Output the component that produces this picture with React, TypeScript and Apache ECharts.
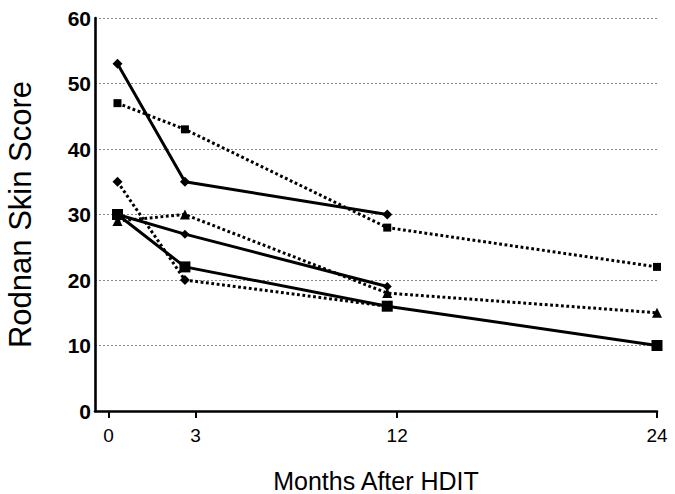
import React, { useEffect, useRef } from "react";
import * as echarts from "echarts";

// Data
const months = [0, 3, 12, 24];
const tickLabels = ["0", "3", "12", "24"];
// tick positions as drawn in the original figure (slightly offset from the data points)
const tickPositions = [-0.4, 3.47, 12.44, 24];
const yTicks = [0, 10, 20, 30, 40, 50, 60];

const solidDiamondA = [53, 35, 30];
const dottedSquare = [47, 43, 28, 22];
const dottedDiamond = [35, 20, 16];
const solidSquare = [30, 22, 16, 10];
const dottedTriangle = [29, 30, 18, 15];
const solidDiamondB = [30, 27, 19];

const FONT = "'Liberation Sans', Arial, Helvetica, sans-serif";

function pairs(values: number[]) {
  return values.map((v, i) => [months[i], v]);
}

export default function App() {
  const ref = useRef<HTMLDivElement>(null);

  useEffect(() => {
    if (!ref.current) return;
    const chart = echarts.init(ref.current, null, { renderer: "svg" });

    const solid = { color: "#000", width: 3, type: "solid" as const };
    const dotted = { color: "#000", width: 3, type: [2.8, 2.6] as any, cap: "butt" as const };

    const mk = (
      name: string,
      values: number[],
      symbol: string,
      size: number,
      line: any
    ) => ({
      name,
      type: "line",
      data: pairs(values),
      symbol,
      symbolSize: size,
      showSymbol: true,
      itemStyle: { color: "#000", borderWidth: 0 },
      lineStyle: line,
      z: 3,
    });

    chart.setOption({
      animation: false,
      backgroundColor: "#fff",
      grid: {
        left: 95,
        right: 18,
        top: 18,
        bottom: 83,
        containLabel: false,
        outerBoundsMode: "none",
      },
      xAxis: {
        type: "value",
        min: -1,
        max: 24,
        name: "Months After HDIT",
        nameLocation: "middle",
        nameGap: 57,
        nameMoveOverlap: false,
        nameTextStyle: { fontFamily: FONT, fontSize: 25, color: "#000" },
        axisLine: { show: true, onZero: false, lineStyle: { color: "#000", width: 2.6 } },
        axisTick: {
          show: true,
          customValues: tickPositions,
          length: 7,
          lineStyle: { color: "#000", width: 2 },
        },
        axisLabel: {
          show: true,
          customValues: tickPositions,
          formatter: (v: number) => {
            let best = 0;
            tickPositions.forEach((p, i) => {
              if (Math.abs(p - v) < Math.abs(tickPositions[best] - v)) best = i;
            });
            return tickLabels[best];
          },
          margin: 15,
          fontFamily: FONT,
          fontSize: 19,
          color: "#000",
        },
        splitLine: { show: false },
      },
      yAxis: {
        type: "value",
        min: yTicks[0],
        max: yTicks[yTicks.length - 1],
        interval: 10,
        name: "Rodnan Skin Score",
        nameLocation: "middle",
        nameGap: 59,
        nameMoveOverlap: false,
        nameTextStyle: { fontFamily: FONT, fontSize: 31, color: "#000" },
        axisLine: { show: true, onZero: false, lineStyle: { color: "#000", width: 2.6 } },
        axisTick: { show: false },
        axisLabel: {
          margin: 4,
          fontFamily: FONT,
          fontSize: 21,
          fontWeight: "bold",
          color: "#000",
        },
        splitLine: {
          show: true,
          lineStyle: { color: "#888", width: 1, type: [2, 2] },
        },
      },
      series: [
        mk("A", solidDiamondA, "diamond", 10, solid),
        mk("B", dottedSquare, "rect", 8, dotted),
        mk("C", dottedDiamond, "diamond", 10, dotted),
        mk("D", solidSquare, "rect", 11, solid),
        mk("E", dottedTriangle, "triangle", 10, dotted),
        mk("F", solidDiamondB, "diamond", 9, solid),
      ],
    });

    return () => chart.dispose();
  }, []);

  return (
    <div
      ref={ref}
      style={{ position: "fixed", left: 0, top: 0, width: 675, height: 494 }}
    />
  );
}
